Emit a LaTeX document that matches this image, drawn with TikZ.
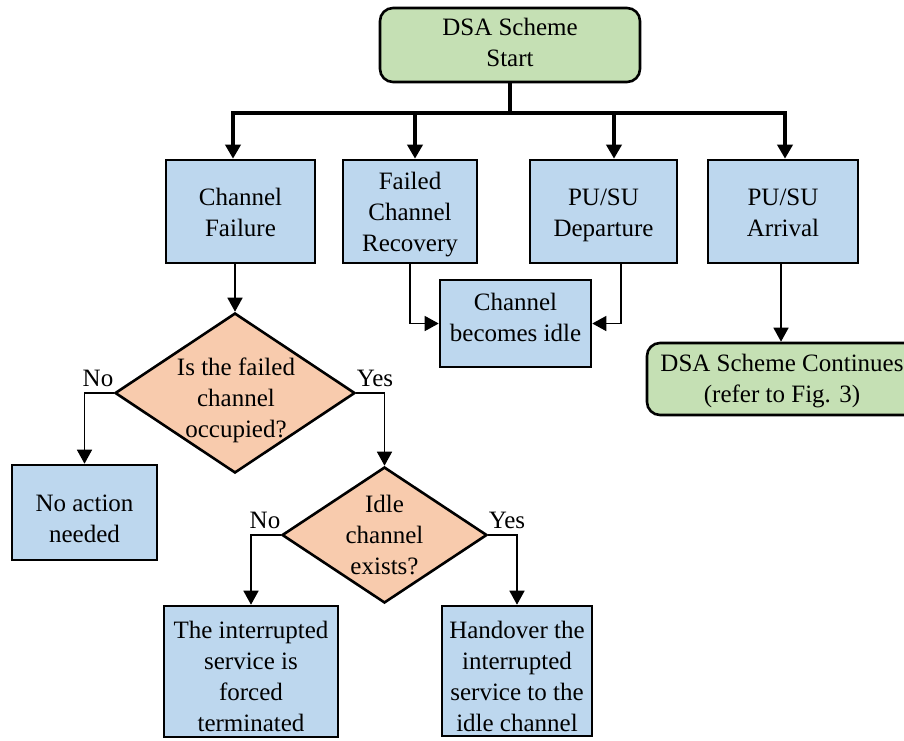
\documentclass[tikz,border=0pt]{standalone}
\usepackage{fontspec}
\setmainfont{Liberation Serif}
\usetikzlibrary{arrows.meta,shapes.geometric,calc}
\definecolor{boxblue}{HTML}{BDD7EE}
\definecolor{boxgreen}{HTML}{C5E0B4}
\definecolor{boxorange}{HTML}{F8CBAD}
\tikzset{
  txt/.style={font=\fontsize{25}{31}\selectfont, align=center, inner sep=0pt},
  procbox/.style={draw=black, line width=2.6pt, fill=boxblue, rectangle, inner sep=0pt},
  termbox/.style={draw=black, line width=2.6pt, fill=boxgreen, rectangle, rounded corners=13pt, inner sep=0pt},
  decbox/.style={draw=black, line width=2.6pt, fill=boxorange, diamond, inner sep=0pt},
  conn/.style={line width=1.5pt, -{Triangle[length=14pt,width=15pt]}},
  busline/.style={line width=3.5pt},
  busarrow/.style={line width=3.5pt, -{Triangle[length=14pt,width=15pt]}},
  lbl/.style={font=\fontsize{25}{31}\selectfont, inner sep=0pt}
}
\begin{document}
\begin{tikzpicture}[x=1pt,y=-1pt]
\useasboundingbox (0,0) rectangle (904,740);
\clip (0,0) rectangle (904,740);

\node[termbox, minimum width=260pt, minimum height=74pt] (start) at (510,45) {};
\node[txt] (startt) at (510,42) {DSA Scheme\\Start};

\node[procbox, minimum width=149pt, minimum height=103pt] (cf)  at (240.5,211.5) {};
\node[txt] (cft) at (240.5,212) {Channel\\Failure};
\node[procbox, minimum width=134pt, minimum height=103pt] (fcr) at (410,211.5) {};
\node[txt] (fcrt) at (410,214.5) {Failed\\Channel\\Recovery};
\node[procbox, minimum width=147pt, minimum height=103pt] (dep) at (603.5,211.5) {};
\node[txt] (dept) at (603.5,215) {PU/SU\\Departure};
\node[procbox, minimum width=150pt, minimum height=103pt] (arr) at (783,211.5) {};
\node[txt] (arrt) at (783,213) {PU/SU\\Arrival};

\node[procbox, minimum width=151pt, minimum height=87pt] (idle) at (515.5,323.5) {};
\node[txt] (idlet) at (515.5,317.5) {Channel\\becomes idle};
\node[termbox, minimum width=270pt, minimum height=72pt] (cont) at (782,379) {};
\node[txt] (contt) at (782,381) {DSA Scheme Continues\\(refer to Fig. 3)};

\node[decbox, minimum width=240pt, minimum height=160pt] (d1) at (235,393) {};
\node[txt] (d1t) at (236,400) {Is the failed\\channel\\occupied?};

\node[procbox, minimum width=145pt, minimum height=95pt] (noact) at (84.5,512.5) {};
\node[txt] (noactt) at (84.5,518.5) {No action\\needed};

\node[decbox, minimum width=205pt, minimum height=136pt] (d2) at (384.5,535) {};
\node[txt] (d2t) at (384.5,535) {Idle\\channel\\exists?};

\node[procbox, minimum width=174pt, minimum height=131pt] (term) at (251,671.5) {};
\node[txt] (termt) at (251,676.5) {The interrupted\\service is\\forced\\terminated};
\node[procbox, minimum width=150pt, minimum height=130pt] (hand) at (517,671) {};
\node[txt] (handt) at (517,676) {Handover the\\interrupted\\service to the\\idle channel};

% bus
\coordinate (bus) at (510,113);
\coordinate (b1) at (233,113);
\coordinate (b2) at (415,113);
\coordinate (b3) at (614,113);
\coordinate (b4) at (785,113);
\draw[busline] (start.south) -- (bus);
\draw[busarrow] (bus) -| (b1 |- cf.north);
\draw[busarrow] (bus) -| (b4 |- arr.north);
\draw[busarrow] (b2) -- (b2 |- fcr.north);
\draw[busarrow] (b3) -- (b3 |- dep.north);

% to idle
\draw[conn] (fcr.south) |- (idle.west);
\coordinate (depout) at (621,263);
\draw[conn] (depout |- dep.south) |- (idle.east);

% arrival to continues
\coordinate (arrout) at (781,263);
\draw[conn] (arrout |- arr.south) -- (arrout |- cont.north);

% failure to decision
\draw[conn] (d1.north |- cf.south) -- (d1.north);

% decision 1
\draw[conn] (d1.west) -| (noact.north);
\draw[conn] (d1.east) -| (d2.north);
\node[lbl] (no1) at (98,378) {No};
\node[lbl] (yes1) at (375,378) {Yes};

% decision 2
\draw[conn] (d2.west) -| (term.north);
\draw[conn] (d2.east) -| (hand.north);
\node[lbl] (no2) at (265,520) {No};
\node[lbl] (yes2) at (507,520) {Yes};
\end{tikzpicture}
\end{document}
